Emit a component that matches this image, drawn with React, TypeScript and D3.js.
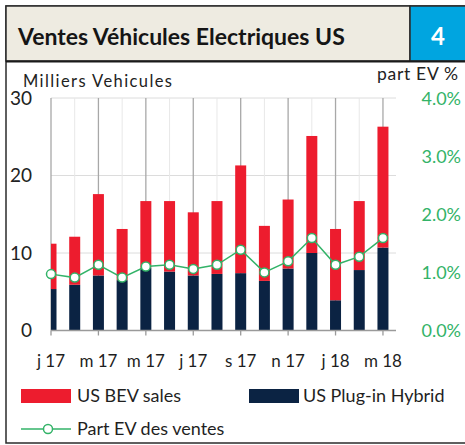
import * as d3 from "d3";

// Jan 2017 .. Mar 2018, monthly
const months = ["j 17", "f 17", "m 17", "a 17", "m 17", "j 17", "j 17", "a 17", "s 17", "o 17", "n 17", "d 17", "j 18", "f 18", "m 18"];
const phevSales = [5.35, 5.9, 7.1, 6.5, 8.1, 7.6, 7.1, 7.3, 7.4, 6.4, 8.0, 10.0, 3.9, 7.8, 10.7];
const bevSales = [5.85, 6.2, 10.5, 6.6, 8.6, 9.1, 8.15, 9.4, 13.9, 7.1, 8.9, 15.1, 9.2, 8.9, 15.6];
const evShare = [0.97, 0.91, 1.13, 0.91, 1.1, 1.13, 1.06, 1.13, 1.39, 1.0, 1.19, 1.59, 1.13, 1.27, 1.59];
const leftTicks = [0, 10, 20, 30];
const rightTicks = [0, 1, 2, 3, 4];

const font = "Lato, 'Open Sans', sans-serif";
const red = "#ED1C2E";
const navy = "#0B2343";
const green = "#33B368";

const plot = { left: 51, right: 396, top: 98, bottom: 330.5 };

export default function App() {
  const x = d3.scaleLinear().domain([0, 14.55]).range([plot.left, plot.right]);
  const y = d3.scaleLinear().domain([0, 30]).range([plot.bottom, plot.top]);
  const yPct = d3.scaleLinear().domain([0, 4]).range([plot.bottom, plot.top]);
  const barW = 11;

  const line = d3
    .line<number>()
    .x((_, i) => x(i))
    .y((d) => yPct(d));

  return (
    <svg
      width={465}
      height={445}
      style={{ position: "absolute", left: 0, top: 0, background: "#fff" }}
    >
      <defs>
        <clipPath id="plotClip">
          <rect x={plot.left} y={0} width={plot.right - plot.left} height={445} />
        </clipPath>
      </defs>

      {/* frame + title band */}
      <rect x={6} y={6} width={470} height={437} fill="#fff" stroke="#2b2b2b" strokeWidth={1.5} />
      <rect x={6} y={6} width={404} height={55} fill="#EEEBE1" stroke="#2b2b2b" strokeWidth={1.5} />
      <rect x={410} y={6} width={60} height={55} fill="#00A5E0" stroke="#2b2b2b" strokeWidth={1.5} />
      <line x1={6} x2={470} y1={61.5} y2={61.5} stroke="#1a1a1a" strokeWidth={2} />
      <text x={18} y={45} fontFamily={font} fontWeight="bold" fontSize={23} fill="#151515">
        Ventes Véhicules Electriques US
      </text>
      <text x={438} y={45} fontFamily={font} fontWeight="bold" fontSize={24} fill="#fff" textAnchor="middle">
        4
      </text>

      {/* gridlines */}
      {leftTicks.slice(1).map((t) => (
        <line key={t} x1={plot.left} x2={plot.right} y1={y(t)} y2={y(t)} stroke="#dcdcdc" strokeWidth={1} />
      ))}
      {months.map((_, i) => (
        <line
          key={i}
          x1={x(i)}
          x2={x(i)}
          y1={plot.top}
          y2={plot.bottom}
          stroke={i % 2 === 0 ? "#a8a8a8" : "#e8e8e8"}
          strokeWidth={i % 2 === 0 ? 1.3 : 1}
        />
      ))}

      {/* stacked bars */}
      <g clipPath="url(#plotClip)">
        {months.map((_, i) => (
          <g key={i}>
            <rect
              x={x(i) - barW / 2}
              y={y(phevSales[i])}
              width={barW}
              height={y(0) - y(phevSales[i])}
              fill={navy}
            />
            <rect
              x={x(i) - barW / 2}
              y={y(phevSales[i] + bevSales[i])}
              width={barW}
              height={y(phevSales[i]) - y(phevSales[i] + bevSales[i])}
              fill={red}
            />
          </g>
        ))}
      </g>

      {/* axes */}
      <line x1={plot.left} x2={plot.right} y1={plot.bottom} y2={plot.bottom} stroke="#9a9a9a" strokeWidth={1.3} />
      {months.map((m, i) =>
        i % 2 === 0 ? (
          <g key={i}>
            <line x1={x(i)} x2={x(i)} y1={plot.bottom} y2={plot.bottom + 5} stroke="#9a9a9a" strokeWidth={1.3} />
            <text x={x(i)} y={367} fontFamily={font} fontSize={17} fill="#1f1f1f" textAnchor="middle">
              {m}
            </text>
          </g>
        ) : null
      )}
      {leftTicks.map((t) => (
        <text key={t} x={32} y={y(t) + 6.5} fontFamily={font} fontSize={19} fill="#222" textAnchor="end">
          {t}
        </text>
      ))}
      {rightTicks.map((t) => (
        <text key={t} x={461} y={yPct(t) + 6.5} fontFamily={font} fontSize={18} fill={green} textAnchor="end">
          {t.toFixed(1) + "%"}
        </text>
      ))}
      <text x={23} y={86.5} fontFamily={font} fontSize={16.5} fill="#222" textLength={149} lengthAdjust="spacing">
        Milliers Vehicules
      </text>
      <text x={458} y={80} fontFamily={font} fontSize={17.5} fill="#222" textAnchor="end" textLength={81} lengthAdjust="spacing">
        part EV %
      </text>

      {/* share line */}
      <path d={line(evShare) ?? ""} fill="none" stroke={green} strokeWidth={1.5} />
      {evShare.map((d, i) => (
        <circle key={i} cx={x(i)} cy={yPct(d)} r={4.5} fill="#fff" stroke={green} strokeWidth={1.5} />
      ))}

      {/* legend */}
      <rect x={21} y={389} width={50} height={14} fill={red} />
      <text x={77} y={402} fontFamily={font} fontSize={18} fill="#1f1f1f">
        US BEV sales
      </text>
      <rect x={249} y={389} width={50} height={14} fill={navy} />
      <text x={303} y={402} fontFamily={font} fontSize={18} fill="#1f1f1f">
        US Plug-in Hybrid
      </text>
      <line x1={21} x2={71} y1={429} y2={429} stroke={green} strokeWidth={1.5} />
      <circle cx={48} cy={429} r={4.5} fill="#fff" stroke={green} strokeWidth={1.5} />
      <text x={77} y={435} fontFamily={font} fontSize={18} fill="#1f1f1f">
        Part EV des ventes
      </text>
    </svg>
  );
}
